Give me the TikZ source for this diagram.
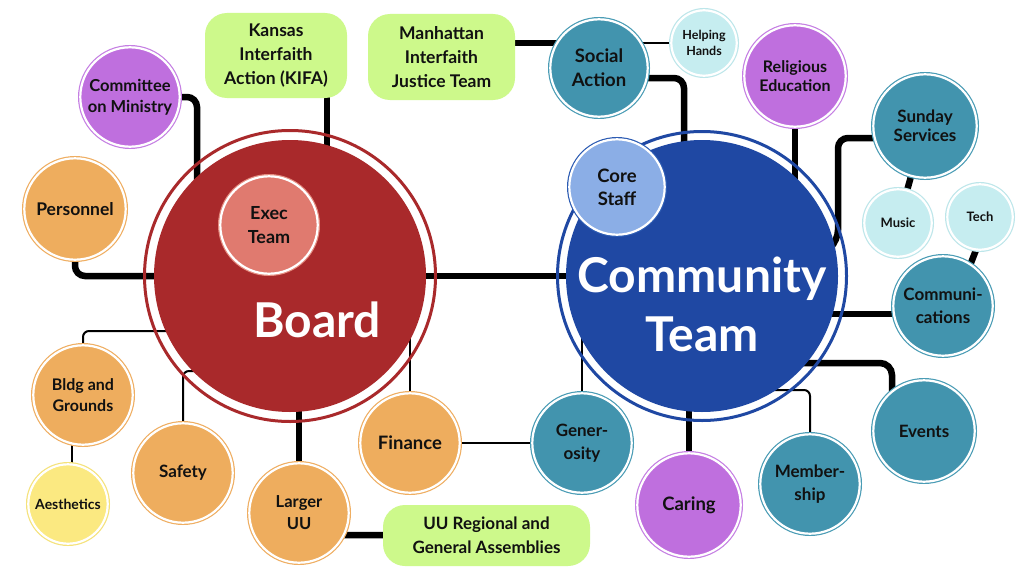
\documentclass[tikz,border=0pt]{standalone}
\usepackage{fontspec}
\setmainfont{Lato}
\usetikzlibrary{calc}
\pgfdeclarelayer{bg}
\pgfsetlayers{bg,main}
\definecolor{bred}{HTML}{A9292B}
\definecolor{bblue}{HTML}{1F48A3}
\definecolor{execc}{HTML}{E07A6F}
\definecolor{execr}{HTML}{E48C80}
\definecolor{corec}{HTML}{8BAEE6}
\definecolor{corer}{HTML}{2D5CB3}
\definecolor{teal}{HTML}{4294AE}
\definecolor{tealr}{HTML}{4A9CB5}
\definecolor{cyanc}{HTML}{C6EDF0}
\definecolor{cyanr}{HTML}{BDE6EA}
\definecolor{purp}{HTML}{BF6FDE}
\definecolor{purpr}{HTML}{C57FE3}
\definecolor{oran}{HTML}{EEAD5E}
\definecolor{oranr}{HTML}{EFAE62}
\definecolor{yell}{HTML}{FBE981}
\definecolor{yellr}{HTML}{F5E27A}
\definecolor{grn}{HTML}{CDF98B}
\definecolor{txt}{HTML}{111111}
\newcommand\myfs[2]{\fontsize{#1}{#2}\selectfont\bfseries}
\tikzset{
  bub/.style n args={3}{circle, inner sep=0pt, minimum size=#1, fill=#2,
    draw=white, line width=2.2pt, preaction={draw=#3, line width=4.6pt},
    align=center, text=txt, font=\myfs{17.5pt}{23pt}},
  gbox/.style={rectangle, rounded corners=22pt, fill=grn, inner sep=0pt,
    align=center, text=txt, font=\myfs{17.5pt}{24pt}},
  thick line/.style={draw=black, line width=6.5pt, rounded corners=10pt},
  thin line/.style={draw=black, line width=2pt, rounded corners=6pt},
  bigtxt/.style={text=white, font=\myfs{48pt}{58pt}, inner sep=0pt, anchor=base},
}
\begin{document}
\begin{tikzpicture}[x=1pt,y=-1pt]
\useasboundingbox (0,0) rectangle (1024,578);
% main circles
\node[circle, draw=bred, line width=3pt, minimum size=291pt, inner sep=0pt] (boardring) at (290,276) {};
\node[circle, fill=bred, minimum size=272pt, inner sep=0pt] (board) at (290,276) {};
\node[circle, draw=bblue, line width=3pt, minimum size=289pt, inner sep=0pt] (commring) at (702,276) {};
\node[circle, fill=bblue, minimum size=272pt, inner sep=0pt] (comm) at (702,276) {};
\node[bigtxt] (boardtxt) at (317,337) {Board};
\node[bigtxt] (commtxt1) at (702,292) {Community};
\node[bigtxt] (commtxt2) at (702,351) {Team};
% left side
\node[bub={99.4pt}{purp}{purpr}, font=\myfs{16.5pt}{21pt}] (com) at (130,97) {Committee\\on Ministry};
\node[bub={101.4pt}{oran}{oranr}] (pers) at (75,209) {Personnel};
\node[gbox, minimum width=142pt, minimum height=85pt] (kifa) at (276,55.5) {Kansas\\Interfaith\\Action (KIFA)};
\node[gbox, minimum width=147pt, minimum height=86pt] (mij) at (441.5,57) {Manhattan\\Interfaith\\Justice Team};
\node[bub={97.4pt}{execc}{execr}, font=\myfs{18pt}{24pt}] (exec) at (269,225) {Exec\\Team};
\node[bub={99.4pt}{oran}{oranr}, font=\myfs{16pt}{21pt}] (bldg) at (83,395) {Bldg and\\Grounds};
\node[bub={79.4pt}{yell}{yellr}, font=\myfs{14pt}{17pt}] (aes) at (68,504) {Aesthetics};
\node[bub={99.4pt}{oran}{oranr}, font=\myfs{17pt}{22pt}] (saf) at (183,473) {Safety};
\node[bub={99.4pt}{oran}{oranr}, font=\myfs{16.5pt}{22pt}] (luu) at (299,513) {Larger\\UU};
\node[bub={99.4pt}{oran}{oranr}, font=\myfs{18.5pt}{23pt}] (fin) at (410,443) {Finance};
\node[gbox, minimum width=207pt, minimum height=61pt, font=\myfs{17pt}{24pt}] (uur) at (486.5,535.5) {UU Regional and\\General Assemblies};
% right side
\node[bub={97.4pt}{teal}{tealr}, font=\myfs{18.5pt}{24pt}] (soc) at (599,68) {Social\\Action};
\node[bub={65.4pt}{cyanc}{cyanr}, font=\myfs{12.5pt}{16pt}] (hh) at (704,43) {Helping\\Hands};
\node[bub={101.4pt}{purp}{purpr}, font=\myfs{16pt}{19.5pt}] (rel) at (795,76) {Religious\\Education};
\node[bub={95.4pt}{corec}{corer}, font=\myfs{18.5pt}{23pt}] (core) at (617,187) {Core\\Staff};
\node[bub={103.4pt}{teal}{tealr}, font=\myfs{17pt}{19.5pt}] (sun) at (925,126) {Sunday\\Services};
\node[bub={67.4pt}{cyanc}{cyanr}, font=\myfs{13pt}{16pt}] (mus) at (898,223) {Music};
\node[bub={65.4pt}{cyanc}{cyanr}, font=\myfs{13pt}{16pt}] (tech) at (980,217) {Tech};
\node[bub={99.4pt}{teal}{tealr}, font=\myfs{17pt}{23pt}] (comms) at (943,306) {Communi-\\cations};
\node[bub={101.4pt}{teal}{tealr}, font=\myfs{17pt}{23pt}] (ev) at (924,431) {Events};
\node[bub={99.4pt}{teal}{tealr}, font=\myfs{17pt}{23pt}] (mem) at (810,484) {Member-\\ship};
\node[bub={103.4pt}{purp}{purpr}, font=\myfs{18.5pt}{23pt}] (car) at (689,505) {Caring};
\node[bub={99.4pt}{teal}{tealr}, font=\myfs{17pt}{23pt}] (gen) at (582,443) {Gener-\\osity};
% connectors
\begin{pgfonlayer}{bg}
\fill[white] (0,0) rectangle (1024,578);
\draw[thick line] (com) -| ($(board)+(-93,0)$);
\draw[thick line] ($(kifa)+(51,0)$) -- ($(board)+(37,0)$);
\draw[thick line] (pers) |- (board);
\draw[thick line] (board) -- (comm);
\draw[thick line] ($(mij)+(0,-14)$) -- ($(soc)+(0,-25)$);
\draw[thin line] ($(soc)+(0,-25)$) -- (hh);
\draw[thick line] ($(soc)+(0,10)$) -| ($(comm)+(-18,0)$);
\draw[thick line] (rel) -- ($(comm)+(93,0)$);
\draw[thick line] ($(sun)+(0,12)$) -| ($(comm)+(136,-36)$) -- ($(comm)+(130,-30)$);
\draw[thick line] (sun) -- (mus);
\draw[thick line] ($(tech)+(1,20)$) -- ($(comms)+(21,-25)$);
\draw[thick line] ($(comms)+(0,8)$) -- ($(comm)+(0,38)$);
\draw[thick line, rounded corners=12pt] ($(ev)+(-32,0)$) |- ($(comm)+(0,87)$);
\draw[thin line] (mem) |- ($(comm)+(0,114)$);
\draw[thick line] (car) -- ($(comm)+(-13,0)$);
\draw[thin line] (gen) -- ($(comm)+(-120,0)$);
\draw[thin line] (fin) -- (gen);
\draw[thin line] (fin) -- ($(board)+(120,0)$);
\draw[thick line] (luu) -- ($(board)+(9,0)$);
\draw[thick line] ($(luu)+(0,22)$) -- (uur);
\draw[thin line] (bldg) |- ($(board)+(0,55)$);
\draw[thin line] (saf) |- ($(board)+(0,95)$);
\draw[thin line] ($(bldg)+(-11,0)$) -- ($(aes)+(4,0)$);
\end{pgfonlayer}
\end{tikzpicture}
\end{document}
